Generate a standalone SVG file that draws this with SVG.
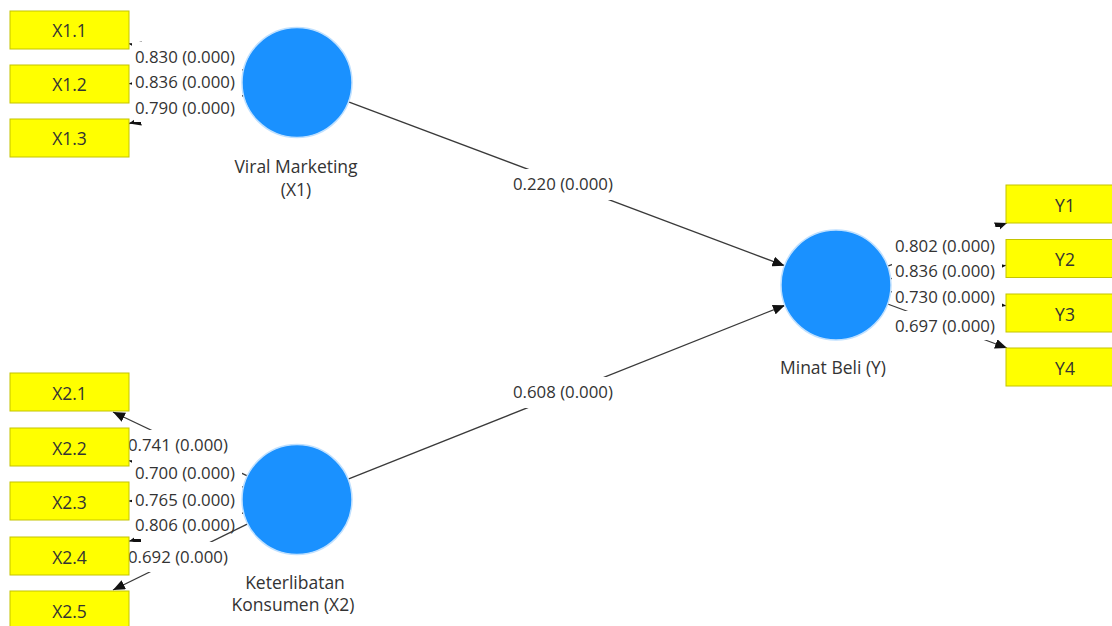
<svg xmlns="http://www.w3.org/2000/svg" width="1112" height="626" viewBox="0 0 1112 626">
<defs>
<style>
.edge{fill:none;stroke:#3a3a3a;stroke-width:1.3;marker-end:url(#ah)}
.bg{fill:#ffffff}
.num{font-family:"Open Sans","Liberation Sans",sans-serif;font-size:16.8px;fill:#333333}
.box{fill:#ffff00;stroke:#c4c400;stroke-width:1}
.btxt{font-family:"Open Sans","Liberation Sans",sans-serif;font-size:17.5px;fill:#333333;text-anchor:middle}
.lv{fill:#1a91ff;stroke:#bfe0ff;stroke-width:1.5}
.ltxt{font-family:"Open Sans","Liberation Sans",sans-serif;font-size:17.5px;fill:#333333;text-anchor:middle}
</style>
<marker id="ah" markerUnits="userSpaceOnUse" markerWidth="12" markerHeight="10" refX="12" refY="5" orient="auto">
<path d="M0,0 L12,5 L0,10 z" fill="#111111"/>
</marker>
</defs>
<rect x="0" y="0" width="1112" height="626" fill="#ffffff"/>
<g id="connectors">
<g id="e-X1-Y"><path class="edge" d="M348.5,101.8 L784.5,265.7"/><rect class="bg" x="510" y="169" width="110" height="31"/></g>
<g id="e-X2-Y"><path class="edge" d="M348.1,479.2 L784.9,305.3"/><rect class="bg" x="510" y="377" width="110" height="31"/></g>
<g id="e-X1-X1_1"><path class="edge" d="M243.4,70.1 L129,43.7"/><rect class="bg" x="132" y="42" width="110" height="29"/></g>
<g id="e-X1-X1_2"><path class="edge" d="M242,82.9 L129,83.6"/><rect class="bg" x="132" y="67" width="110" height="29"/></g>
<g id="e-X1-X1_3"><path class="edge" d="M243.6,95.5 L129,123.5"/><rect class="bg" x="134" y="93" width="108" height="29"/></g>
<g id="e-X2-X2_1"><path class="edge" d="M247.3,475.9 L113,412"/><rect class="bg" x="125" y="430" width="110" height="29"/></g>
<g id="e-X2-X2_2"><path class="edge" d="M243.4,487.1 L129,460.7"/><rect class="bg" x="132" y="458" width="110" height="29"/></g>
<g id="e-X2-X2_3"><path class="edge" d="M242,500 L129,501"/><rect class="bg" x="132" y="485" width="110" height="29"/></g>
<g id="e-X2-X2_4"><path class="edge" d="M243.6,512.8 L129,541.2"/><rect class="bg" x="134" y="510" width="108" height="29"/></g>
<g id="e-X2-X2_5"><path class="edge" d="M247.7,523.8 L113,590"/><rect class="bg" x="125" y="542" width="110" height="30"/></g>
<g id="e-Y-Y1"><path class="edge" d="M887.7,266.2 L1007,223"/><rect class="bg" x="892" y="227" width="108" height="33"/></g>
<g id="e-Y-Y2"><path class="edge" d="M890.6,278.7 L1006,265.4"/><rect class="bg" x="892" y="256" width="110" height="29"/></g>
<g id="e-Y-Y3"><path class="edge" d="M890.6,291.6 L1006,305.7"/><rect class="bg" x="892" y="282" width="110" height="29"/></g>
<g id="e-Y-Y4"><path class="edge" d="M887.6,304 L1007,348"/><rect class="bg" x="892" y="311" width="108" height="29"/></g>
<g id="edge-labels">
<text class="num" x="513" y="190">0.220 (0.000)</text>
<text class="num" x="513" y="398">0.608 (0.000)</text>
<text class="num" x="135" y="63">0.830 (0.000)</text>
<text class="num" x="135" y="88">0.836 (0.000)</text>
<text class="num" x="135" y="114">0.790 (0.000)</text>
<text class="num" x="128" y="451">0.741 (0.000)</text>
<text class="num" x="135" y="479">0.700 (0.000)</text>
<text class="num" x="135" y="506">0.765 (0.000)</text>
<text class="num" x="135" y="531">0.806 (0.000)</text>
<text class="num" x="128" y="563">0.692 (0.000)</text>
<text class="num" x="895" y="252">0.802 (0.000)</text>
<text class="num" x="895" y="277">0.836 (0.000)</text>
<text class="num" x="895" y="303">0.730 (0.000)</text>
<text class="num" x="895" y="332">0.697 (0.000)</text>
</g>
</g>
<g id="X1"><circle class="lv" cx="297" cy="82.5" r="55"/><text class="ltxt" x="296" y="173">Viral Marketing</text><text class="ltxt" x="296" y="196">(X1)</text></g>
<g id="X2"><circle class="lv" cx="297" cy="499.5" r="55"/><text class="ltxt" x="295" y="589">Keterlibatan</text><text class="ltxt" x="293" y="611">Konsumen (X2)</text></g>
<g id="Y"><circle class="lv" cx="836" cy="285" r="55"/><text class="ltxt" x="833" y="374">Minat Beli (Y)</text></g>
<g id="X1_1"><rect class="box" x="10" y="11" width="119" height="38"/><text class="btxt" x="69.5" y="37">X1.1</text></g>
<g id="X1_2"><rect class="box" x="10" y="65" width="119" height="38"/><text class="btxt" x="69.5" y="91">X1.2</text></g>
<g id="X1_3"><rect class="box" x="10" y="119" width="119" height="38"/><text class="btxt" x="69.5" y="145">X1.3</text></g>
<g id="X2_1"><rect class="box" x="10" y="373" width="119" height="38"/><text class="btxt" x="69.5" y="400">X2.1</text></g>
<g id="X2_2"><rect class="box" x="10" y="428" width="119" height="38"/><text class="btxt" x="69.5" y="454.5">X2.2</text></g>
<g id="X2_3"><rect class="box" x="10" y="482" width="119" height="38"/><text class="btxt" x="69.5" y="509">X2.3</text></g>
<g id="X2_4"><rect class="box" x="10" y="537" width="119" height="38"/><text class="btxt" x="69.5" y="563.5">X2.4</text></g>
<g id="X2_5"><rect class="box" x="10" y="591" width="119" height="38"/><text class="btxt" x="69.5" y="617.5">X2.5</text></g>
<g id="Y1"><rect class="box" x="1006" y="185" width="119" height="38"/><text class="btxt" x="1065" y="211.5">Y1</text></g>
<g id="Y2"><rect class="box" x="1006" y="239.5" width="119" height="38"/><text class="btxt" x="1065" y="266">Y2</text></g>
<g id="Y3"><rect class="box" x="1006" y="294" width="119" height="38"/><text class="btxt" x="1065" y="320.5">Y3</text></g>
<g id="Y4"><rect class="box" x="1006" y="348" width="119" height="38"/><text class="btxt" x="1065" y="374.5">Y4</text></g>
</svg>
